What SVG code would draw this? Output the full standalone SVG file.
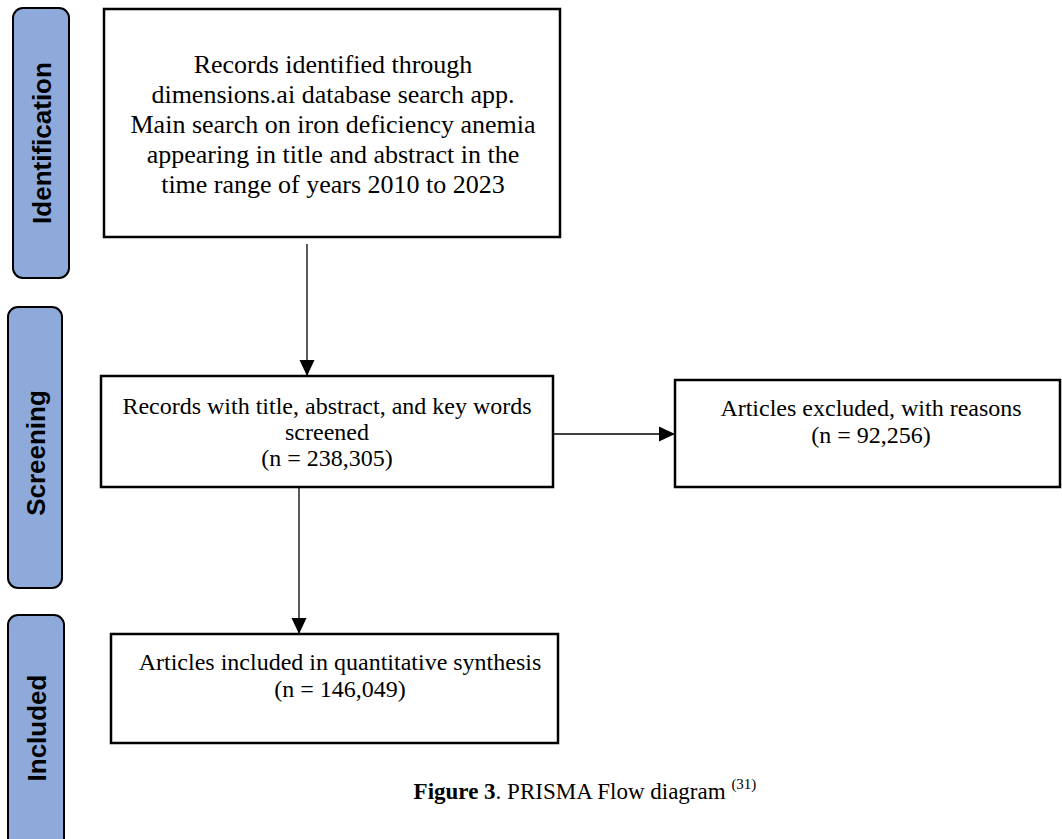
<svg xmlns="http://www.w3.org/2000/svg" width="1062" height="839" viewBox="0 0 1062 839">
<style>
.bar{fill:#8eaadb;stroke:#000;stroke-width:2}
.lbl{font-family:"Liberation Sans",Arial,sans-serif;font-weight:bold;font-size:26px;fill:#000;text-anchor:middle;dominant-baseline:central}
.box{fill:#fff;stroke:#000;stroke-width:2.5}
.t{font-family:"Liberation Serif","Times New Roman",serif;font-size:24px;fill:#000;text-anchor:middle}
.t1{font-size:26px}
.ln{stroke:#000;stroke-width:1.3;fill:none}
</style>
<defs>
<marker id="ah" markerWidth="16" markerHeight="16" refX="16" refY="8" orient="auto" markerUnits="userSpaceOnUse">
<path d="M0,0.5 L16,8 L0,15.5 Z" fill="#000"/>
</marker>
</defs>
<rect width="1062" height="839" fill="#fff"/>
<g id="phase-identification">
<rect class="bar" x="13" y="8" width="56" height="270" rx="10"/>
<text class="lbl" transform="translate(42,143) rotate(-90)">Identification</text>
</g>
<g id="phase-screening">
<rect class="bar" x="8" y="307" width="54" height="281" rx="10"/>
<text class="lbl" transform="translate(36,453) rotate(-90)">Screening</text>
</g>
<g id="phase-included">
<rect class="bar" x="8" y="615" width="56" height="250" rx="10"/>
<text class="lbl" transform="translate(37,728) rotate(-90)">Included</text>
</g>
<g id="node-identified">
<rect class="box" x="104" y="9" width="456" height="228"/>
<text class="t t1" x="333" y="73">Records identified through</text>
<text class="t t1" x="333" y="103">dimensions.ai database search app.</text>
<text class="t t1" x="333" y="133">Main search on iron deficiency anemia</text>
<text class="t t1" x="333" y="163">appearing in title and abstract in the</text>
<text class="t t1" x="333" y="193">time range of years 2010 to 2023</text>
</g>
<g id="node-screened">
<rect class="box" x="101" y="376" width="452" height="111"/>
<text class="t" x="327" y="414">Records with title, abstract, and key words</text>
<text class="t" x="327" y="440">screened</text>
<text class="t" x="327" y="466">(n = 238,305)</text>
</g>
<g id="node-excluded">
<rect class="box" x="675" y="380" width="385" height="107"/>
<text class="t" x="871" y="416">Articles excluded, with reasons</text>
<text class="t" x="871" y="443">(n = 92,256)</text>
</g>
<g id="node-included">
<rect class="box" x="111" y="634" width="447" height="109"/>
<text class="t" x="340" y="670">Articles included in quantitative synthesis</text>
<text class="t" x="340" y="697">(n = 146,049)</text>
</g>
<g id="connectors">
<line class="ln" x1="307" y1="244" x2="307" y2="376" marker-end="url(#ah)"/>
<line class="ln" x1="553" y1="434" x2="675" y2="434" marker-end="url(#ah)"/>
<line class="ln" x1="299" y1="487" x2="299" y2="634" marker-end="url(#ah)"/>
</g>
<text x="585" y="799" style="font-family:'Liberation Serif','Times New Roman',serif;font-size:23px;fill:#000" text-anchor="middle"><tspan font-weight="bold">Figure 3</tspan>. PRISMA Flow diagram <tspan font-size="15" dy="-10">(31)</tspan></text>
</svg>
